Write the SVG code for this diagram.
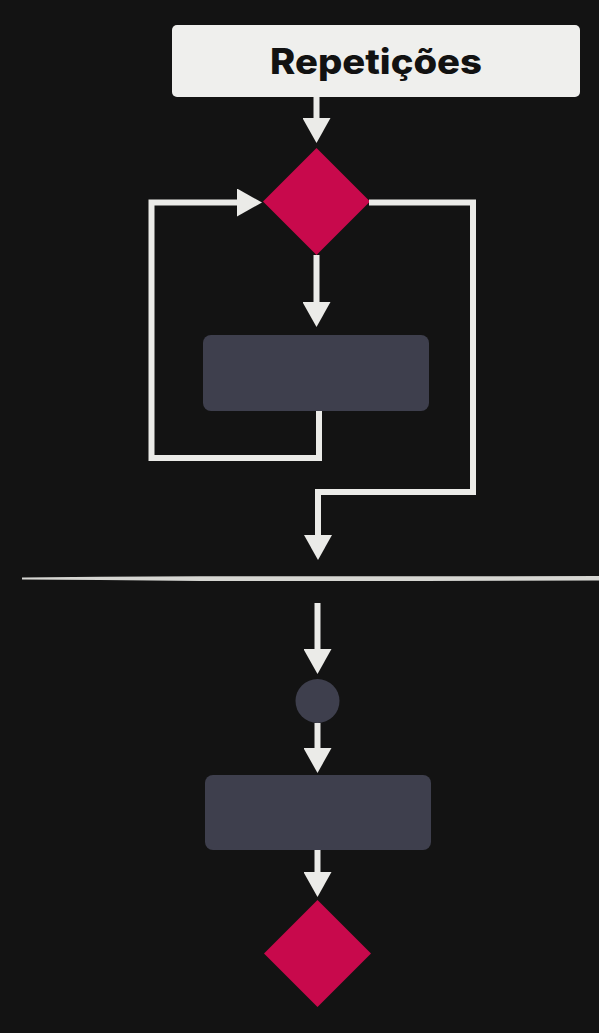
<svg xmlns="http://www.w3.org/2000/svg" width="599" height="1033" viewBox="0 0 599 1033">
<style>
.bg{fill:#131313}
.title{fill:#efefed}
.title-text{font-family:Inter,"Liberation Sans",sans-serif;font-weight:800;font-size:35px;fill:#121212}
.decision{fill:#c8094c}
.process{fill:#3e3f4d}
.conn{fill:none;stroke:#ebebe8;stroke-width:6;stroke-linejoin:miter;stroke-linecap:butt}
.divider{fill:#d6d6d2}
</style>
<defs>
<marker id="ah" viewBox="0 0 25 28" refX="0" refY="14" markerWidth="25" markerHeight="28" markerUnits="userSpaceOnUse" orient="auto">
<path d="M0,0 L25,14 L0,28 z" fill="#ebebe8"/>
</marker>
</defs>
<rect class="bg" x="0" y="0" width="599" height="1033"/>

<g id="title">
<rect class="title" x="172" y="25" width="408" height="72" rx="5"/>
<text class="title-text" x="376" y="74" text-anchor="middle" textLength="212" lengthAdjust="spacingAndGlyphs">Repetições</text>
</g>

<g id="decision1"><polygon class="decision" points="316.5,148 370,201.5 316.5,255 263,201.5"/></g>
<g id="process1"><rect class="process" x="203" y="335" width="226" height="76" rx="8"/></g>

<g id="divider"><path class="divider" d="M22 577.5 L100 576.8 L200 576.2 L420 576.3 L599 576 L599 580.5 L420 581 L200 581 L100 580 L22 579.5 z"/></g>

<g id="start-circle"><circle class="process" cx="317.5" cy="701" r="22"/></g>
<g id="process2"><rect class="process" x="205" y="775" width="226" height="75" rx="8"/></g>
<g id="decision2"><polygon class="decision" points="317.5,900 371,953.5 317.5,1007 264,953.5"/></g>

<g id="connectors">
<path class="conn" d="M316.5 97 V118" marker-end="url(#ah)"/>
<path class="conn" d="M316.5 255 V302" marker-end="url(#ah)"/>
<path class="conn" d="M319 411 V458 H151.5 V202.5 H237" marker-end="url(#ah)"/>
<path class="conn" d="M369 202.5 H473 V492 H318 V535" marker-end="url(#ah)"/>
<path class="conn" d="M317.5 603 V649" marker-end="url(#ah)"/>
<path class="conn" d="M317.5 723 V748" marker-end="url(#ah)"/>
<path class="conn" d="M317.5 850 V872" marker-end="url(#ah)"/>
</g>
</svg>
